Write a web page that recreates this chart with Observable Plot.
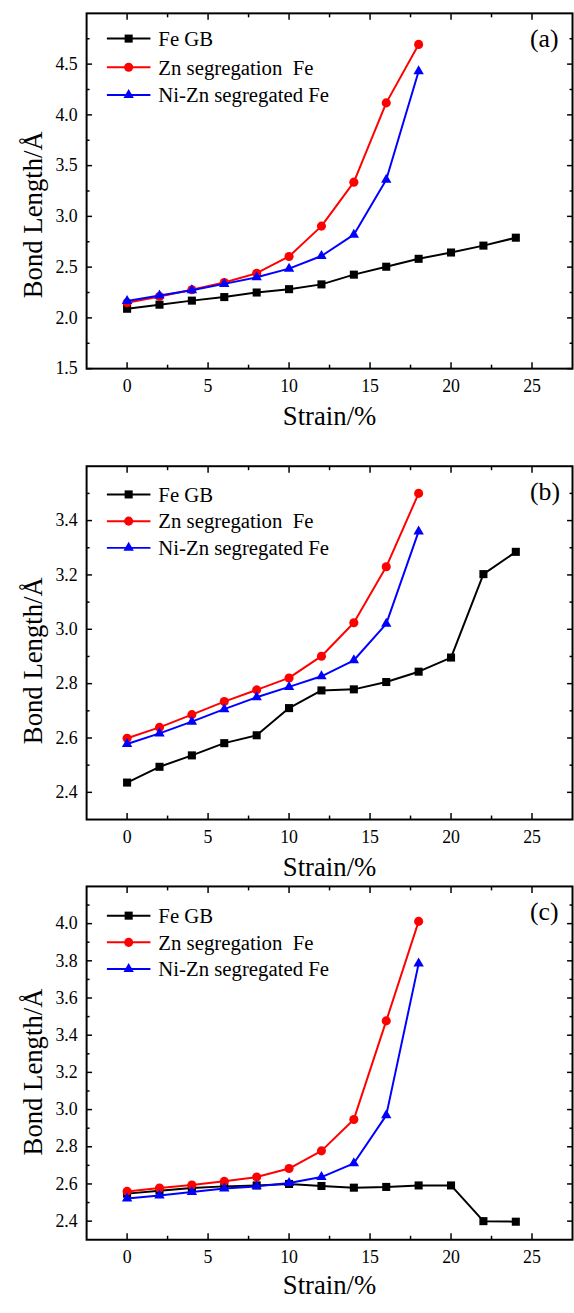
<!DOCTYPE html>
<html><head><meta charset="utf-8">
<script src="https://cdn.jsdelivr.net/npm/d3@7"></script>
<script src="https://cdn.jsdelivr.net/npm/@observablehq/plot@0.6"></script>
<style>
body{margin:0;background:#fff;}
#wrap{width:574px;overflow:hidden;}
#wrap svg{display:block;}
#wrap svg, #wrap svg text{font-family:"Liberation Serif","Times New Roman",serif !important;}
</style></head><body><div id="wrap"></div>
<script>
// ---- data ----
const strainFull = [0, 2, 4, 6, 8, 10, 12, 14, 16, 18, 20, 22, 24];
const strainShort = [0, 2, 4, 6, 8, 10, 12, 14, 16, 18];
const seriesNames = ["Fe GB", "Zn segregation\u00a0 Fe", "Ni-Zn segregated Fe"];
const seriesColors = ["#000000", "#ff0000", "#0000ff"];
const seriesSymbols = ["square", "circle", "triangle"];
const panelLabels = ["(a)", "(b)", "(c)"];
const xTitle = "Strain/%";
const yTitle = "Bond Length/\u00c5";

// panel (a)
const aFeGB = [2.09, 2.13, 2.17, 2.205, 2.25, 2.283, 2.33, 2.426, 2.504, 2.582, 2.644, 2.712, 2.79];
const aZn   = [2.15, 2.21, 2.277, 2.348, 2.44, 2.605, 2.904, 3.337, 4.118, 4.694];
const aNiZn = [2.166, 2.22, 2.273, 2.335, 2.40, 2.485, 2.61, 2.82, 3.36, 4.43];
// panel (b)
const bFeGB = [2.436, 2.494, 2.536, 2.581, 2.61, 2.71, 2.775, 2.779, 2.806, 2.844, 2.896, 3.203, 3.285];
const bZn   = [2.599, 2.639, 2.686, 2.734, 2.777, 2.821, 2.901, 3.024, 3.23, 3.50];
const bNiZn = [2.578, 2.617, 2.66, 2.706, 2.75, 2.788, 2.827, 2.886, 3.02, 3.36];
// panel (c)
const cFeGB = [2.548, 2.564, 2.578, 2.587, 2.592, 2.60, 2.589, 2.58, 2.584, 2.592, 2.592, 2.40, 2.397];
const cZn   = [2.56, 2.578, 2.594, 2.614, 2.637, 2.683, 2.778, 2.947, 3.477, 4.012];
const cNiZn = [2.522, 2.538, 2.557, 2.575, 2.587, 2.605, 2.637, 2.711, 2.969, 3.785];

// ticks
const xMajorTicks = [0, 5, 10, 15, 20, 25];
const xMinorTicks = [2.5, 7.5, 12.5, 17.5, 22.5];
const aYMajor = [1.5, 2.0, 2.5, 3.0, 3.5, 4.0, 4.5];
const aYMinor = [1.75, 2.25, 2.75, 3.25, 3.75, 4.25, 4.75];
const bYMajor = [2.4, 2.6, 2.8, 3.0, 3.2, 3.4];
const bYMinor = [2.5, 2.7, 2.9, 3.1, 3.3, 3.5];
const cYMajor = [2.4, 2.6, 2.8, 3.0, 3.2, 3.4, 3.6, 3.8, 4.0];
const cYMinor = [2.5, 2.7, 2.9, 3.1, 3.3, 3.5, 3.7, 3.9, 4.1];

// ---- layout ----
const panels = [
  {values: [aFeGB, aZn, aNiZn], yDomain: [1.5, 5.0], yMajor: aYMajor, yMinor: aYMinor,
   height: 445, mt: 13, mb: 73, yTitleShift: 24, xTitleDy: 57, legend: [26, 55, 83]},
  {values: [bFeGB, bZn, bNiZn], yDomain: [2.3, 3.6], yMajor: bYMajor, yMinor: bYMinor,
   height: 445, mt: 26, mb: 62, yTitleShift: 18, xTitleDy: 57, legend: [29, 56, 83]},
  {values: [cFeGB, cZn, cNiZn], yDomain: [2.3, 4.2], yMajor: cYMajor, yMinor: cYMinor,
   height: 423, mt: 5, mb: 61, yTitleShift: 9, xTitleDy: 55, legend: [30, 57, 84]}
];
const symbolTypes = [d3.symbolSquare, d3.symbolCircle, d3.symbolTriangle];
const dotR = [4.6, 4.6, 3.9];
const FONT = "Liberation Serif";

function legendMark(offsets) {
  return (index, scales, values, dims) => {
    const g = d3.create("svg:g");
    seriesNames.forEach((name, i) => {
      const y = dims.marginTop + offsets[i];
      const x0 = dims.marginLeft + 21;
      g.append("line").attr("x1", x0).attr("x2", x0 + 44).attr("y1", y).attr("y2", y)
        .attr("stroke", seriesColors[i]).attr("stroke-width", 2);
      g.append("path").attr("transform", `translate(${x0 + 22},${y})`)
        .attr("d", d3.symbol(symbolTypes[i], Math.PI * dotR[i] * dotR[i])())
        .attr("fill", seriesColors[i]);
      g.append("text").attr("x", x0 + 52).attr("y", y).attr("dy", "0.35em")
        .attr("text-anchor", "start")
        .attr("font-size", 21).attr("fill", "#000").text(name);
    });
    return g.node();
  };
}

const wrap = document.getElementById("wrap");
panels.forEach((p, k) => {
  const rows = [];
  seriesNames.forEach((name, i) => {
    const xs = p.values[i].length === strainFull.length ? strainFull : strainShort;
    p.values[i].forEach((v, j) => rows.push({strain: xs[j], bond: v, series: name}));
  });
  const marks = [
    Plot.frame({stroke: "#000", strokeWidth: 2}),
    Plot.axisX(xMajorTicks, {anchor: "bottom", tickSize: -6, tickPadding: 17, strokeWidth: 1.5, fontSize: 18, fontFamily: FONT, label: null, tickFormat: d3.format("d")}),
    Plot.axisX(xMinorTicks, {anchor: "bottom", tickSize: -3.5, strokeWidth: 1.5, label: null, tickFormat: () => ""}),
    Plot.axisX(xMajorTicks, {anchor: "top", tickSize: -6, strokeWidth: 1.5, label: null, tickFormat: () => ""}),
    Plot.axisX(xMinorTicks, {anchor: "top", tickSize: -3.5, strokeWidth: 1.5, label: null, tickFormat: () => ""}),
    Plot.axisY(p.yMajor, {anchor: "left", tickSize: -6, tickPadding: 15, strokeWidth: 1.5, fontSize: 18, fontFamily: FONT, label: null, tickFormat: d3.format(".1f")}),
    Plot.axisY(p.yMinor, {anchor: "left", tickSize: -3.5, strokeWidth: 1.5, label: null, tickFormat: () => ""}),
    Plot.axisY(p.yMajor, {anchor: "right", tickSize: -6, strokeWidth: 1.5, label: null, tickFormat: () => ""}),
    Plot.axisY(p.yMinor, {anchor: "right", tickSize: -3.5, strokeWidth: 1.5, label: null, tickFormat: () => ""})
  ];
  seriesNames.forEach((name, i) => {
    const d = rows.filter(r => r.series === name);
    marks.push(Plot.line(d, {x: "strain", y: "bond", stroke: seriesColors[i], strokeWidth: 2}));
    marks.push(Plot.dot(d, {x: "strain", y: "bond", symbol: seriesSymbols[i], fill: seriesColors[i], stroke: "none", r: dotR[i]}));
  });
  marks.push(legendMark(p.legend));
  marks.push(Plot.text([panelLabels[k]], {frameAnchor: "top-right", dx: -43, dy: 34, textAnchor: "start", lineAnchor: "bottom", fontSize: 26, fontFamily: FONT, fill: "#000"}));
  marks.push(Plot.text([xTitle], {frameAnchor: "bottom", dy: p.xTitleDy, textAnchor: "middle", lineAnchor: "bottom", fontSize: 27, fontFamily: FONT, fill: "#000"}));
  marks.push(Plot.text([yTitle], {frameAnchor: "left", dx: -45, dy: p.yTitleShift, rotate: -90, textAnchor: "middle", lineAnchor: "bottom", fontSize: 27, fontFamily: FONT, fill: "#000"}));

  const svg = Plot.plot({
    width: 580, height: p.height,
    marginLeft: 87, marginRight: 2, marginTop: p.mt, marginBottom: p.mb,
    style: {background: "#fff", color: "#000", overflow: "visible"},
    x: {domain: [-2.5, 27.5]},
    y: {domain: p.yDomain},
    marks
  });
  wrap.appendChild(svg);
});
</script></body></html>
